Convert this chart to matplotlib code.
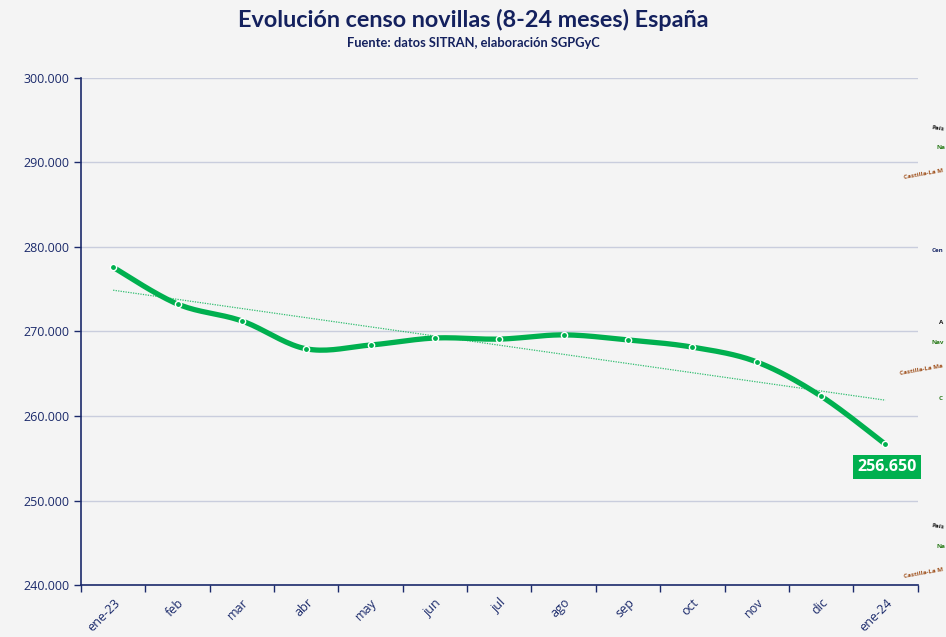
import numpy as np
import matplotlib.pyplot as plt

meses = ['ene-23', 'feb', 'mar', 'abr', 'may', 'jun', 'jul', 'ago', 'sep', 'oct', 'nov', 'dic', 'ene-24']
censo = [277600, 273250, 271250, 267950, 268400, 269230, 269100, 269600, 269000, 268150, 266400, 262350, 256650]

# restos de etiquetas de otro grafico que asoman (cortadas) por el borde derecho
restos = ['País', 'Na', 'Castilla-La M', 'Cen', 'A', 'Nav', 'Castilla-La Ma', 'C', 'País', 'Na', 'Castilla-La M']
restos_col = ['#1a1a1a', '#2e7d1e', '#a0521e', '#1f2d6b', '#1a1a1a', '#2e7d1e',
              '#a0521e', '#2e7d1e', '#1a1a1a', '#2e7d1e', '#a0521e']

navy = '#1b2a6b'
verde = '#00b04f'

def suaviza(x, y, n=20):
    # curva suave tipo Excel (Catmull-Rom)
    x = np.asarray(x, float); y = np.asarray(y, float)
    px = np.r_[x[0], x, x[-1]]; py = np.r_[y[0], y, y[-1]]
    xs, ys = [], []
    t = np.linspace(0, 1, n)
    for i in range(1, len(px) - 2):
        for p, out in ((px, xs), (py, ys)):
            p0, p1, p2, p3 = p[i-1], p[i], p[i+1], p[i+2]
            c1 = p1 + (p2 - p0) / 6
            c2 = p2 - (p3 - p1) / 6
            out.extend((1-t)**3*p1 + 3*(1-t)**2*t*c1 + 3*(1-t)*t**2*c2 + t**3*p2)
    return np.array(xs), np.array(ys)

fig = plt.figure(figsize=(9.46, 6.37), dpi=100, facecolor='#f4f4f4')
ax = fig.add_axes([0.0856, 0.0816, 0.8844, 0.796])
ax.set_facecolor('#f4f4f4')

x = np.arange(len(meses))
sx, sy = suaviza(x, censo)
ax.plot(sx, sy, color=verde, lw=3.8, solid_capstyle='round', zorder=3)
ax.plot(x, censo, 'o', color=verde, ms=4.5, mec='white', mew=1.0, zorder=4)

a, b = np.polyfit(x, censo, 1)
ax.plot(x, a * x + b, color=verde, lw=0.9, ls=(0, (1, 1)), alpha=0.8, zorder=2)

ax.annotate(f'{censo[-1]:,}'.replace(',', '.'), (x[-1], censo[-1]), xytext=(1, -16),
            textcoords='offset points', ha='center', va='center', color='white',
            fontsize=11.5, fontweight='bold', family='Open Sans',
            bbox=dict(boxstyle='square,pad=0.25', fc=verde, ec='none'))

ax.set_xlim(-0.5, len(meses) - 0.5)
ax.set_ylim(240000, 300000)
ax.set_yticks(np.arange(240000, 300001, 10000))
ax.set_yticklabels([f'{v:,}'.replace(',', '.') for v in range(240000, 300001, 10000)])
ax.yaxis.grid(True, color='#c9cddd', lw=1.0)
ax.set_axisbelow(True)

ax.set_xticks(x)
ax.set_xticklabels(meses, rotation=45, ha='right', va='top', rotation_mode='anchor')
ax.set_xticks(np.arange(-0.5, len(meses)), minor=True)
ax.tick_params(axis='x', which='major', length=0, pad=8, labelsize=9, colors=navy)
ax.tick_params(axis='x', which='minor', length=5, width=1, color=navy)
ax.tick_params(axis='y', length=5, width=1, color=navy, labelcolor=navy, labelsize=9)
for lab in ax.get_xticklabels() + ax.get_yticklabels():
    lab.set_family('Open Sans')
for s in ['top', 'right']:
    ax.spines[s].set_visible(False)
for s in ['left', 'bottom']:
    ax.spines[s].set_color(navy)
    ax.spines[s].set_linewidth(1.2)

fig.text(0.5, 0.968, 'Evolución censo novillas (8-24 meses) España', ha='center', va='center',
         fontsize=16.8, fontweight='bold', color='#14215e', family='Lato')
fig.text(0.5, 0.933, 'Fuente: datos SITRAN, elaboración SGPGyC', ha='center', va='center',
         fontsize=9.3, fontweight='bold', color='#14215e', family='Lato')

pos = [(931, 128, -8), (936, 147, 0), (903, 174, 10), (932, 250, 0), (939, 323, 0), (931, 343, 0),
       (899, 370, 10), (939, 398, 0), (931, 526, -8), (936, 546, 0), (903, 573, 10)]
for (px, py, r), t, c in zip(pos, restos, restos_col):
    fig.text(px / 946, 1 - py / 637, t, fontsize=4.5, fontweight='bold', color=c,
             rotation=r, ha='left', va='center', family='Open Sans')

fig.savefig('out.png', dpi=100, facecolor=fig.get_facecolor())
